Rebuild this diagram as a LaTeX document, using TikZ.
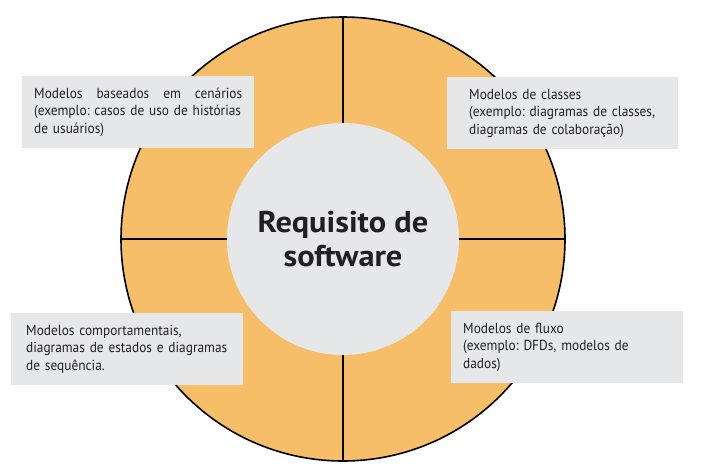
\documentclass[tikz,border=0pt]{standalone}
\usepackage{fontspec}
\setmainfont{PT Sans}
\newfontfamily\caixafont[FakeStretch=0.92]{PT Sans}
\newfontfamily\titulofont[FakeStretch=1.08]{PT Sans}
\usetikzlibrary{positioning}
\definecolor{laranja}{RGB}{247,190,106}
\definecolor{cinza}{RGB}{230,231,232}
\definecolor{texto}{RGB}{35,31,32}
\frenchspacing

\begin{document}
\begin{tikzpicture}[x=1pt,y=-1pt,
  modelo/.style={rectangle, fill=cinza, anchor=north west, align=left,
    minimum height=72pt, inner ysep=0pt, text=texto,
    font=\caixafont\fontsize{14.5}{17.5}\selectfont},
  divisor/.style={line width=1.4pt, draw=black}]
\useasboundingbox (0,0) rectangle (701,474);

\node [circle, draw=black, line width=1.6pt, fill=laranja, minimum size=444pt, inner sep=0pt] (roda) at (343,239) {};
\draw [divisor] (roda.north) -- (roda.south);
\draw [divisor] (roda.west) -- (roda.east);
\node [circle, fill=cinza, minimum size=232pt, inner sep=0pt, align=center, text=texto,
  font=\titulofont\fontsize{30}{34}\selectfont\bfseries] (req) at (roda.center) {Requisito de\\software};

\node [modelo, inner xsep=12pt, text width=208pt] (cenarios) at (22,76)
  {Modelos\hfill baseados\hfill em\hfill cenários\\(exemplo: casos de uso de histórias\\de usuários)};
\node [modelo, inner xsep=22pt, text width=187pt] (classes) at (447,77)
  {Modelos de classes\\(exemplo: diagramas de classes,\\diagramas de colaboração)};
\node [modelo, inner xsep=15pt, text width=202pt] (comport) at (11,313)
  {Modelos comportamentais,\\diagramas de estados e diagramas\\de sequência.};
\node [modelo, inner xsep=12pt, text width=208pt] (fluxo) at (451,311)
  {Modelos de fluxo\\(exemplo: DFDs, modelos de\\dados)};

\end{tikzpicture}
\end{document}
